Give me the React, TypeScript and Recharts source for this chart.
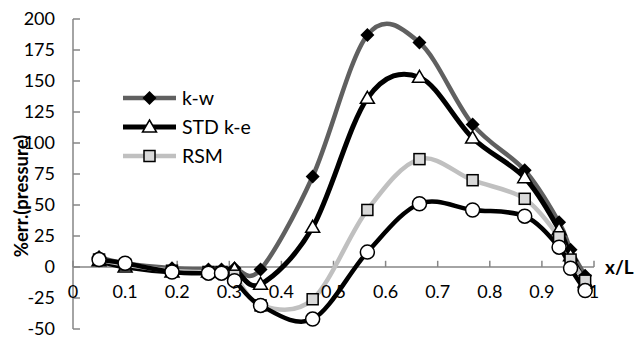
import React from 'react';
import { LineChart, Line, XAxis, YAxis, ReferenceLine, Legend } from 'recharts';

// x/L positions of the probes
const X_POS = [0.05, 0.1, 0.19, 0.26, 0.285, 0.31, 0.36, 0.46, 0.565, 0.665, 0.767, 0.867, 0.933, 0.955, 0.983];
// %err.(pressure) per model
const KW = [8, 3, -1, -2, -2, -1, -2, 73, 187, 181, 115, 78, 36, 14, -7];
const STD_KE = [5, 0, -4, -4, -4, -2, -14, 32, 136, 153, 104, 72, 30, 9, -12];
const RSM = [6, 2, -3, -4, -4, -7, -31, -26, 46, 87, 70, 55, 24, 6, -11];
const OTHER = [6, 3, -4, -5, -5, -11, -31, -42, 12, 51, 46, 41, 16, -1, -19];

const X_TICKS = [0, 0.1, 0.2, 0.3, 0.4, 0.5, 0.6, 0.7, 0.8, 0.9, 1];
const X_TICK_LABELS = ['0', '0.1', '0.2', '0.3', '0.4', '0.5', '0.6', '0.7', '0.8', '0.9', '1'];
const Y_TICKS = [-50, -25, 0, 25, 50, 75, 100, 125, 150, 175, 200];

const data = X_POS.map((x, i) => ({ x, kw: KW[i], ske: STD_KE[i], rsm: RSM[i], other: OTHER[i] }));

const FONT = 'Lato, "Open Sans", sans-serif';
const AXIS_GREY = '#868686';

// smoothing close to Excel's "smoothed line" (Catmull-Rom as bezier)
const excelSmooth = (context: any) => {
  let pts: number[][] = [];
  return {
    areaStart() {},
    areaEnd() {},
    lineStart() { pts = []; },
    point(x: number, y: number) { pts.push([+x, +y]); },
    lineEnd() {
      if (!pts.length) return;
      context.moveTo(pts[0][0], pts[0][1]);
      for (let i = 0; i < pts.length - 1; i++) {
        const p0 = pts[Math.max(i - 1, 0)];
        const p1 = pts[i];
        const p2 = pts[i + 1];
        const p3 = pts[Math.min(i + 2, pts.length - 1)];
        context.bezierCurveTo(
          p1[0] + (p2[0] - p0[0]) / 6, p1[1] + (p2[1] - p0[1]) / 6,
          p2[0] - (p3[0] - p1[0]) / 6, p2[1] - (p3[1] - p1[1]) / 6,
          p2[0], p2[1]
        );
      }
    },
  };
};

type MarkerKind = 'diamond' | 'triangle' | 'square' | 'circle';

const Marker = ({ kind, cx, cy }: { kind: MarkerKind; cx: number; cy: number }) => {
  if (cx == null || cy == null) return null;
  if (kind === 'diamond') {
    return <path d={`M${cx},${cy - 7}L${cx + 7},${cy}L${cx},${cy + 7}L${cx - 7},${cy}Z`} fill="#000" />;
  }
  if (kind === 'triangle') {
    return <path d={`M${cx},${cy - 7}L${cx + 7},${cy + 5}L${cx - 7},${cy + 5}Z`} fill="#fff" stroke="#000" strokeWidth={1.5} />;
  }
  if (kind === 'square') {
    return <rect x={cx - 5.5} y={cy - 5.5} width={11} height={11} fill="#d9d9d9" stroke="#000" strokeWidth={1.5} />;
  }
  return <circle cx={cx} cy={cy} r={7} fill="#fff" stroke="#000" strokeWidth={1.5} />;
};

const SERIES = [
  { key: 'kw', name: 'k-w', color: '#606060', width: 4.5, marker: 'diamond' as MarkerKind, legend: true },
  { key: 'ske', name: 'STD k-e', color: '#000000', width: 5, marker: 'triangle' as MarkerKind, legend: true },
  { key: 'rsm', name: 'RSM', color: '#c0c0c0', width: 4.5, marker: 'square' as MarkerKind, legend: true },
  { key: 'other', name: 'other', color: '#000000', width: 4.5, marker: 'circle' as MarkerKind, legend: false },
];

const LegendBox = () => (
  <div style={{ fontFamily: FONT, fontSize: 19.5, color: '#000' }}>
    {SERIES.filter(s => s.legend).map(s => (
      <div key={s.key} style={{ height: 29, display: 'flex', alignItems: 'center' }}>
        <svg width={53} height={18} style={{ display: 'block' }}>
          <line x1={0} y1={9} x2={53} y2={9} stroke={s.color} strokeWidth={s.width} strokeLinecap="round" />
          <Marker kind={s.marker} cx={26.5} cy={9} />
        </svg>
        <span style={{ marginLeft: 6, lineHeight: 1 }}>{s.name}</span>
      </div>
    ))}
  </div>
);

export default function App() {
  return (
    <div style={{ position: 'absolute', left: 0, top: 0, background: '#fff' }}>
      <LineChart
        width={640}
        height={338}
        data={data}
        margin={{ top: 19, right: 46, bottom: 9, left: 0 }}
        style={{ fontFamily: FONT }}
      >
        <XAxis dataKey="x" type="number" domain={[0, 1]} hide />
        <YAxis
          type="number"
          domain={[-50, 200]}
          ticks={Y_TICKS}
          interval={0}
          width={73}
          stroke={AXIS_GREY}
          strokeWidth={1.5}
          tickSize={-7}
          tickMargin={25}
          tick={{ fill: '#000', fontSize: 18 }}
          label={{
            content: () => (
              <text
                x={21}
                y={196}
                transform="rotate(-90 21 196)"
                textAnchor="middle"
                dominantBaseline="central"
                fontWeight="bold"
                fontSize={18.5}
                fill="#000"
                fontFamily={FONT}
              >
                %err.(pressure)
              </text>
            ),
          }}
        />
        <ReferenceLine
          y={0}
          stroke={AXIS_GREY}
          strokeWidth={1.5}
          label={{ value: 'x/L', position: 'right', offset: 11, fontWeight: 'bold', fontSize: 19, fill: '#000' }}
        />
        {X_TICKS.map((v, i) => (
          <ReferenceLine
            key={`xt-${v}`}
            segment={[{ x: v, y: 0 }, { x: v, y: 5 }]}
            stroke={AXIS_GREY}
            strokeWidth={1.5}
            label={{ value: X_TICK_LABELS[i], position: 'bottom', offset: 18, fontSize: 18, fill: '#000' }}
          />
        ))}
        <Legend
          layout="vertical"
          align="center"
          verticalAlign="middle"
          wrapperStyle={{ left: 123, top: 83, width: 160 }}
          content={() => <LegendBox />}
        />
        {SERIES.map(s => (
          <Line
            key={s.key}
            dataKey={s.key}
            name={s.name}
            type={excelSmooth as any}
            stroke={s.color}
            strokeWidth={s.width}
            legendType={s.legend ? 'line' : 'none'}
            isAnimationActive={false}
            dot={(p: any) => <Marker key={`${s.key}-${p.index}`} kind={s.marker} cx={p.cx} cy={p.cy} />}
            activeDot={false}
          />
        ))}
      </LineChart>
    </div>
  );
}
